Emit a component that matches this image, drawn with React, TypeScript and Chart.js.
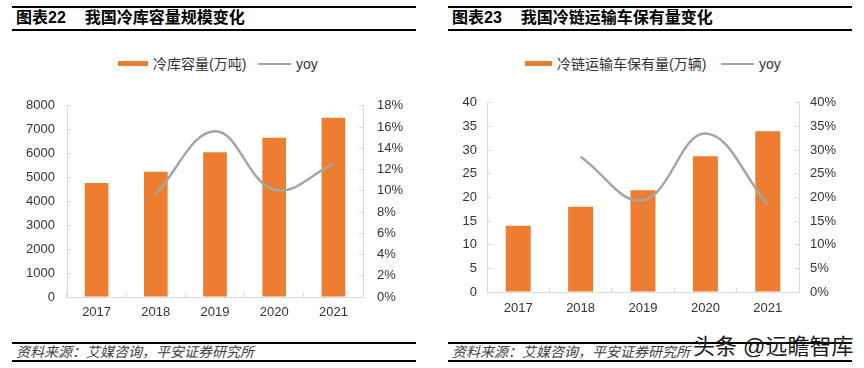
import React, { useEffect, useRef } from "react";
import { Chart, registerables } from "chart.js";

Chart.register(...registerables);

const years = ["2017", "2018", "2019", "2020", "2021"];
const coldStorage = [4775, 5238, 6053, 6665, 7498];
const coldStorageYoy = [null, 9.7, 15.6, 10.1, 12.5];
const coldTrucks = [14, 18, 21.5, 28.7, 34];
const coldTrucksYoy = [null, 28.6, 19.4, 33.5, 18.5];

const ORANGE = "#ED7D31";
const GRAY = "#A5A5A5";
const AXIS = "#D9D9D9";
const TEXT = "#333333";
const FONT = '"Liberation Sans", Arial, "Noto Sans CJK SC", sans-serif';

type PanelCfg = {
  bars: number[];
  yoy: (number | null)[];
  barLabel: string;
  leftMax: number;
  leftStep: number;
  rightMax: number;
  rightStep: number;
  leftW: number;
  rightW: number;
  xH: number;
  leftPad: number;
  rightPad: number;
  xPad: number;
};

function ChartCanvas({ cfg }: { cfg: PanelCfg }) {
  const ref = useRef<HTMLCanvasElement | null>(null);
  useEffect(() => {
    if (!ref.current) return;
    const tickFont = { family: FONT, size: 13 };
    const chart = new Chart(ref.current, {
      type: "bar",
      data: {
        labels: years,
        datasets: [
          {
            type: "line",
            label: "yoy",
            data: cfg.yoy as any,
            yAxisID: "y1",
            borderColor: GRAY,
            backgroundColor: GRAY,
            borderWidth: 2.5,
            pointRadius: 0,
            tension: 0.4,
            order: 0,
          } as any,
          {
            type: "bar",
            label: cfg.barLabel,
            data: cfg.bars,
            yAxisID: "y",
            backgroundColor: ORANGE,
            categoryPercentage: 1,
            barPercentage: 0.4,
            order: 1,
          },
        ],
      },
      options: {
        responsive: false,
        animation: false,
        layout: { padding: { top: 15, left: 0, right: 0, bottom: 0 } },
        plugins: { legend: { display: false }, tooltip: { enabled: false } },
        scales: {
          x: {
            grid: { drawOnChartArea: false, tickLength: -4, color: AXIS },
            border: { color: AXIS, width: 1 },
            ticks: { font: tickFont, color: TEXT, padding: cfg.xPad, maxRotation: 0 },
            afterFit: (s: any) => { s.height = cfg.xH; },
          },
          y: {
            position: "left",
            min: 0,
            max: cfg.leftMax,
            ticks: {
              stepSize: cfg.leftStep,
              font: tickFont,
              color: TEXT,
              padding: cfg.leftPad,
              callback: (v: any) => String(v),
            },
            grid: { drawOnChartArea: false, tickLength: -4, color: AXIS },
            border: { color: AXIS, width: 1 },
            afterFit: (s: any) => { s.width = cfg.leftW; },
          },
          y1: {
            position: "right",
            min: 0,
            max: cfg.rightMax,
            ticks: {
              stepSize: cfg.rightStep,
              font: tickFont,
              color: TEXT,
              padding: cfg.rightPad,
              callback: (v: any) => `${v}%`,
            },
            grid: { drawOnChartArea: false, tickLength: -4, color: AXIS },
            border: { color: AXIS, width: 1 },
            afterFit: (s: any) => { s.width = cfg.rightW; },
          },
        },
      },
    });
    return () => chart.destroy();
  }, [cfg]);
  return <canvas ref={ref} width={432} height={250} style={{ display: "block" }} />;
}

const leftCfg: PanelCfg = {
  bars: coldStorage,
  yoy: coldStorageYoy,
  barLabel: "冷库容量(万吨)",
  leftMax: 8000,
  leftStep: 1000,
  rightMax: 18,
  rightStep: 2,
  leftW: 67,
  rightW: 69,
  xH: 33,
  leftPad: 16,
  rightPad: 18,
  xPad: 12,
};

const rightCfg: PanelCfg = {
  bars: coldTrucks,
  yoy: coldTrucksYoy,
  barLabel: "冷链运输车保有量(万辆)",
  leftMax: 40,
  leftStep: 5,
  rightMax: 40,
  rightStep: 5,
  leftW: 55,
  rightW: 65,
  xH: 38,
  leftPad: 14,
  rightPad: 15,
  xPad: 13,
};

const abs = (s: React.CSSProperties): React.CSSProperties => ({ position: "absolute", ...s });

function Rule({ x, y, w }: { x: number; y: number; w: number }) {
  return <div style={abs({ left: x, top: y, width: w, height: 2, background: "#000" })} />;
}

function Legend({ x, rectW, label, lineX }: { x: number; rectW: number; label: string; lineX: number }) {
  return (
    <>
      <div style={abs({ left: x, top: 61, width: rectW, height: 5, background: ORANGE })} />
      <div style={abs({ left: x + rectW + 5, top: 54, fontSize: 14, lineHeight: "20px", color: TEXT, whiteSpace: "nowrap" })}>{label}</div>
      <div style={abs({ left: lineX, top: 62.5, width: 33, height: 2, background: GRAY })} />
      <div style={abs({ left: lineX + 38, top: 54, fontSize: 14, lineHeight: "20px", color: TEXT })}>yoy</div>
    </>
  );
}

function Title({ x, num, text }: { x: number; num: string; text: string }) {
  return (
    <div style={abs({ left: x, top: 8, fontSize: 16, lineHeight: "20px", fontWeight: 700, color: "#000", whiteSpace: "nowrap" })}>
      <span>{num}</span>
      <span style={{ marginLeft: 19 }}>{text}</span>
    </div>
  );
}

export default function App() {
  return (
    <div style={{ position: "fixed", left: 0, top: 0, width: 864, height: 368, background: "#fff", fontFamily: FONT, overflow: "hidden" }}>
      {/* left panel */}
      <Rule x={12} y={6} w={404} />
      <Title x={16} num="图表22" text="我国冷库容量规模变化" />
      <Rule x={12} y={29} w={404} />
      <Legend x={118} rectW={30} label="冷库容量(万吨)" lineX={258} />
      <div style={abs({ left: 0, top: 80 })}>
        <ChartCanvas cfg={leftCfg} />
      </div>
      <Rule x={12} y={342} w={404} />
      <div style={abs({ left: 16, top: 343, fontSize: 14, lineHeight: "18px", fontStyle: "italic", color: "#404040", whiteSpace: "nowrap" })}>
        资料来源：艾媒咨询，平安证券研究所
      </div>
      <Rule x={12} y={360} w={404} />

      {/* right panel */}
      <Rule x={448} y={6} w={404} />
      <Title x={452} num="图表23" text="我国冷链运输车保有量变化" />
      <Rule x={448} y={29} w={404} />
      <Legend x={525} rectW={27} label="冷链运输车保有量(万辆)" lineX={721} />
      <div style={abs({ left: 432, top: 80 })}>
        <ChartCanvas cfg={rightCfg} />
      </div>
      <Rule x={448} y={342} w={404} />
      <div style={abs({ left: 452, top: 343, fontSize: 14, lineHeight: "18px", fontStyle: "italic", color: "#404040", whiteSpace: "nowrap" })}>
        资料来源：艾媒咨询，平安证券研究所
      </div>
      <Rule x={448} y={360} w={404} />
      <div style={abs({ left: 693, top: 333, fontSize: 22, lineHeight: "28px", color: "#1a1a1a", whiteSpace: "nowrap" })}>
        头条 @远瞻智库
      </div>
    </div>
  );
}
